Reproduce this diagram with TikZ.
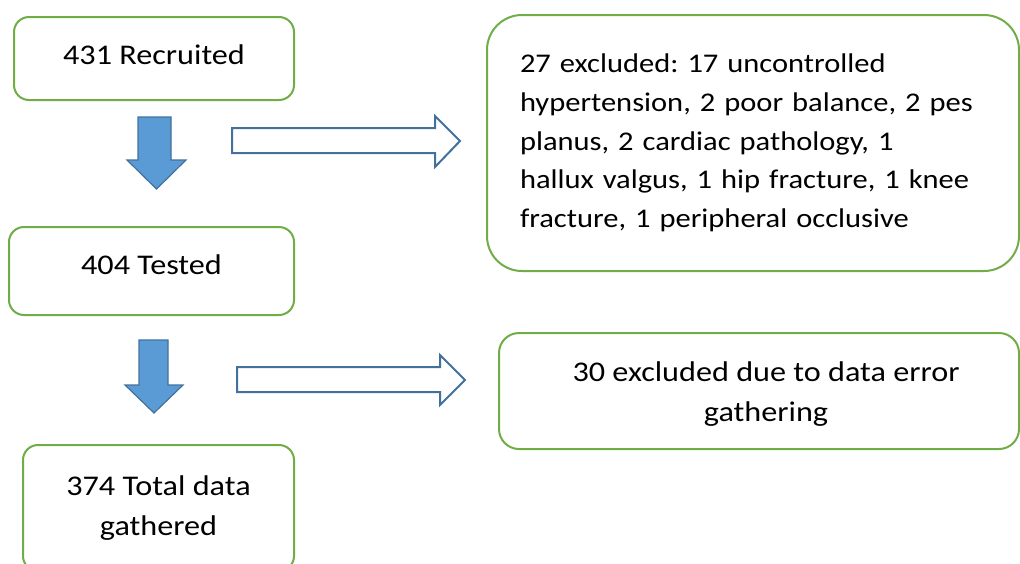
\documentclass[tikz,border=0pt]{standalone}
\usepackage{fontspec}
\setmainfont{Carlito}[FakeStretch=1.13]
\usetikzlibrary{positioning}
\definecolor{boxgreen}{HTML}{70AD47}
\definecolor{arrowblue}{HTML}{5B9BD5}
\definecolor{arrowedge}{HTML}{41719C}

\begin{document}
\frenchspacing
\begin{tikzpicture}[x=1pt, y=-1pt, font=\fontsize{28.5}{40}\selectfont]
        \tikzstyle{block} = [rectangle, draw=boxgreen, line width=2pt, rounded corners=15pt, align=center, inner sep=0pt, anchor=north west]
        \tikzstyle{fullarrow} = [fill=arrowblue, draw=arrowedge, line width=1.2pt]
        \tikzstyle{openarrow} = [fill=white, draw=arrowedge, line width=2pt]

        \useasboundingbox (0,0) rectangle (1020,563);

        % Nodes
        \node [block, minimum width=280pt, minimum height=83pt, text depth=8pt] (recruited) at (13,16) {431 Recruited};
        \node [block, minimum width=285pt, minimum height=88pt, text depth=13pt] (tested) at (8,226) {404 Tested};
        \node [block, minimum width=271pt, minimum height=126pt] (total) at (22,444) {374 Total data \\ gathered};
        \node [block, rounded corners=35pt, minimum width=532pt, minimum height=256pt, text width=466pt, align=left, font=\fontsize{27}{38.7}\selectfont] (excl1) at (486,14) {27 excluded: 17 uncontrolled \\ hypertension, 2 poor balance, 2 pes \\ planus, 2 cardiac pathology, 1 \\ hallux valgus, 1 hip fracture, 1 knee \\ fracture, 1 peripheral occlusive};
        \node [block, rounded corners=20pt, minimum width=520pt, minimum height=116pt] (excl2) at (498,332) {\hspace*{14pt}\rule{0pt}{26pt}30 excluded due to data error \\ \hspace*{14pt}gathering};

        % Arrows
        \draw [fullarrow] (138,117) -- (171,117) -- (171,160) -- (186,160) -- (156.5,189) -- (127,160) -- (138,160) -- cycle;
        \draw [fullarrow] (139,340) -- (168,340) -- (168,385) -- (183,385) -- (154,413) -- (125,385) -- (139,385) -- cycle;
        \draw [openarrow] (232,128) -- (435,128) -- (435,116) -- (460,141) -- (435,167) -- (435,153) -- (232,153) -- cycle;
        \draw [openarrow] (237,367) -- (440,367) -- (440,355) -- (465,380) -- (440,405) -- (440,392) -- (237,392) -- cycle;
    \end{tikzpicture}
\end{document}
